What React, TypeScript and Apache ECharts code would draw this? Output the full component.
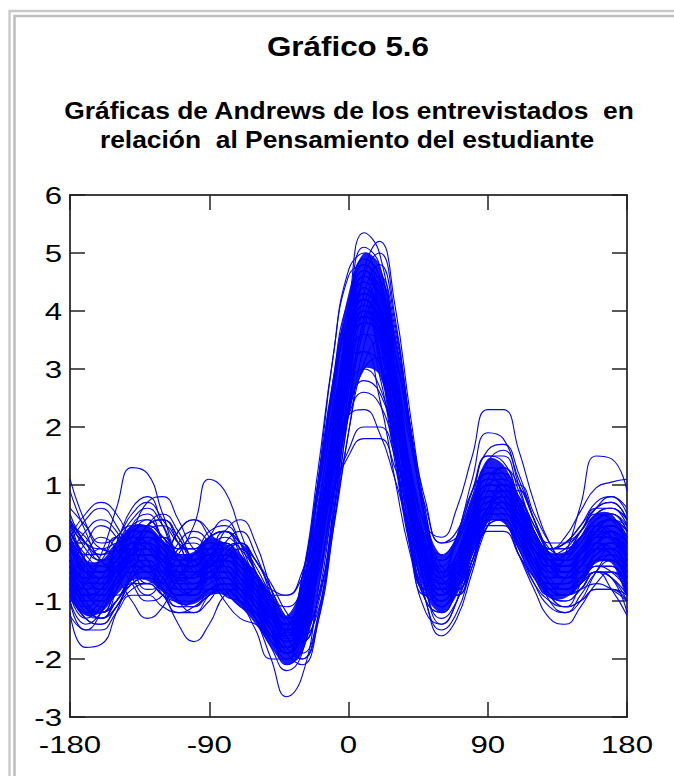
import React, { useEffect, useRef } from "react";
import * as echarts from "echarts";

const T = [-180,-170,-160,-150,-140,-130,-120,-110,-100,-90,-80,-70,-60,-50,-40,-30,-20,-10,0,10,20,30,40,50,60,70,80,90,100,110,120,130,140,150,160,170,180];

const xTicks = [-180, -90, 0, 90, 180];
const yTicks = [-3, -2, -1, 0, 1, 2, 3, 4, 5, 6];

// envelope of the densest (solid blue) part of the bundle
const coreLow = [-0.9,-1.25,-1.2,-0.9,-0.65,-0.65,-0.85,-1.05,-1.05,-0.9,-0.9,-1.1,-1.4,-1.8,-2.1,-1.9,-0.9,0.6,2.2,3.0,2.9,1.7,0.2,-0.9,-1.2,-0.9,-0.2,0.35,0.35,-0.1,-0.6,-0.95,-0.95,-0.7,-0.35,-0.35,-0.9];
const coreHigh = [0.0,-0.3,-0.3,0.0,0.3,0.3,0.05,-0.2,-0.15,0.1,0.0,-0.2,-0.5,-0.9,-1.25,-0.7,0.7,2.8,4.3,5.0,4.8,3.6,1.9,0.4,-0.2,0.1,0.8,1.45,1.35,0.8,0.2,-0.15,-0.15,0.1,0.5,0.5,0.0];

const c01 = [1.1,0.35,-0.1,-0.15,0.0,-0.1,-0.4,-0.65,-0.55,-0.25,-0.1,-0.3,-0.6,-1.15,-1.55,-1.35,-0.1,1.6,3.3,4.4,4.1,2.6,0.9,-0.3,-0.6,-0.2,0.4,0.9,0.8,0.35,0.0,-0.1,0.1,0.55,0.95,1.05,1.1];
const c02 = [-0.5,-0.6,-0.2,0.6,1.3,1.2,0.5,-0.1,0.3,1.1,0.9,0.2,-0.5,-1.1,-1.5,-1.2,0.1,1.8,3.3,4.1,3.6,2.1,0.5,-0.6,-0.9,-0.4,0.4,1.1,1.0,0.4,-0.2,-0.5,-0.5,-0.3,0.0,-0.2,-0.5];
const c03 = [-0.6,-1.1,-1.2,-0.8,-0.4,-0.3,-0.6,-0.9,-0.9,-0.6,-0.5,-0.8,-1.3,-2.0,-2.65,-2.3,-0.9,1.0,2.8,4.0,3.9,2.6,0.9,-0.5,-1.1,-0.8,0.0,0.6,0.6,0.2,-0.4,-0.8,-0.9,-0.6,-0.3,-0.3,-0.6];
const c04 = [-1.2,-1.8,-1.75,-1.2,-0.6,-0.4,-0.6,-0.9,-0.8,-0.5,-0.4,-0.6,-0.9,-1.4,-1.8,-1.5,-0.3,1.4,3.0,3.9,3.7,2.4,0.8,-0.4,-0.9,-0.6,0.1,0.6,0.5,0.0,-0.5,-0.9,-1.0,-0.8,-0.5,-0.6,-1.2];
const c05 = [-0.3,-0.9,-1.0,-0.6,-0.2,-0.3,-0.8,-1.4,-1.7,-1.4,-0.9,-0.8,-1.1,-1.5,-1.8,-1.4,-0.1,1.7,3.4,4.5,4.3,2.9,1.2,-0.1,-0.6,-0.3,0.4,1.0,1.0,0.5,0.0,-0.3,-0.3,-0.1,0.2,0.1,-0.3];
const c06 = [0.2,-0.3,-0.5,-0.3,0.0,0.1,-0.1,-0.3,-0.3,-0.1,0.0,-0.3,-0.8,-1.4,-1.9,-1.6,-0.2,1.9,4.0,5.35,5.0,3.3,1.2,-0.4,-1.1,-0.8,0.1,0.9,0.9,0.4,-0.1,-0.4,-0.3,0.0,0.4,0.5,0.2];
const c07 = [0.4,0.0,-0.2,-0.1,0.2,0.3,0.1,-0.2,-0.3,-0.2,-0.2,-0.4,-0.6,-0.8,-0.9,-0.6,0.1,0.9,1.5,1.8,1.8,1.3,0.5,-0.2,-0.5,-0.2,0.4,0.9,0.9,0.5,0.1,-0.1,0.0,0.3,0.6,0.7,0.4];
const c08 = [-0.5,-0.9,-0.8,-0.4,0.0,0.0,-0.3,-0.6,-0.6,-0.4,-0.4,-0.6,-0.8,-1.0,-1.1,-0.8,0.0,0.9,1.6,2.0,2.0,1.5,0.6,-0.2,-0.6,-0.4,0.2,0.7,0.8,0.5,0.0,-0.4,-0.5,-0.3,0.0,-0.1,-0.5];
const c09 = [-0.1,-0.4,-0.4,-0.1,0.2,0.2,0.0,-0.3,-0.4,-0.3,-0.3,-0.5,-0.7,-0.9,-0.9,-0.5,0.4,1.4,2.2,2.3,1.9,1.1,0.2,-0.5,-0.8,-0.5,0.1,0.6,0.7,0.4,-0.1,-0.4,-0.4,-0.2,0.1,0.2,-0.1];
const c10 = [-0.7,-1.2,-1.2,-0.8,-0.4,-0.3,-0.5,-0.7,-0.7,-0.6,-0.6,-0.8,-1.0,-1.3,-1.4,-1.1,-0.1,1.2,2.3,2.8,2.6,1.7,0.5,-0.5,-0.9,-0.6,0.0,0.5,0.5,0.1,-0.4,-0.8,-0.9,-0.7,-0.4,-0.4,-0.7];
const c11 = [0.1,-0.3,-0.5,-0.4,-0.2,-0.1,-0.2,-0.3,-0.2,0.0,0.0,-0.3,-0.7,-1.2,-1.6,-1.3,0.0,1.8,3.4,4.3,4.0,2.8,1.3,0.3,0.1,0.6,1.5,2.3,2.3,1.6,0.7,0.0,-0.3,-0.2,0.2,0.4,0.1];
const c12 = [-0.6,-0.9,-0.8,-0.5,-0.3,-0.4,-0.7,-0.9,-0.8,-0.5,-0.5,-0.8,-1.2,-1.6,-1.9,-1.5,-0.2,1.5,3.2,4.3,4.0,2.3,0.3,-1.0,-1.6,-1.3,-0.5,0.3,0.4,-0.2,-0.8,-1.3,-1.4,-1.1,-0.7,-0.5,-0.6];
const c13 = [0.9,0.2,-0.3,-0.4,-0.2,-0.1,-0.3,-0.5,-0.5,-0.3,-0.2,-0.4,-0.8,-1.3,-1.6,-1.3,-0.2,1.4,3.0,4.0,3.8,2.5,0.9,-0.3,-0.8,-0.6,0.0,0.5,0.5,0.2,-0.3,-0.6,-0.2,0.65,1.5,1.45,0.9];
const c14 = [-1.25,-1.5,-1.2,-0.6,-0.2,-0.2,-0.5,-0.8,-0.8,-0.6,-0.6,-0.9,-1.2,-1.6,-1.9,-1.6,-0.4,1.3,2.9,3.9,3.7,2.4,0.8,-0.4,-0.9,-0.6,0.1,0.7,0.6,0.1,-0.4,-0.7,-0.7,-0.6,-0.5,-0.8,-1.25];
const c15 = [-0.2,-0.65,-0.7,-0.45,-0.2,-0.2,-0.4,-0.55,-0.55,-0.35,-0.3,-0.5,-0.8,-1.25,-1.65,-1.35,-0.1,1.6,3.2,4.2,3.9,2.5,0.9,-0.3,-0.7,-0.3,0.4,1.0,0.9,0.35,-0.1,-0.4,-0.4,-0.15,0.15,0.05,-0.2];
const c16 = [0.1,-0.2,-0.2,0.1,0.3,0.3,0.1,-0.1,-0.1,0.1,0.2,0.0,-0.4,-0.9,-1.3,-1.0,0.3,2.1,3.8,4.8,4.5,2.9,1.0,-0.4,-1.0,-0.7,0.1,0.7,0.6,0.1,-0.4,-0.7,-0.7,-0.4,-0.1,-0.1,0.1];
const c17 = [-0.5,-1.1,-1.2,-1.0,-0.7,-0.7,-0.9,-1.0,-1.0,-0.8,-0.8,-1.0,-1.3,-1.6,-1.9,-1.6,-0.4,1.2,2.7,3.6,3.5,2.4,1.0,0.0,-0.3,0.0,0.7,1.3,1.2,0.7,0.2,-0.1,-0.1,0.1,0.3,0.1,-0.5];
const c18 = [-0.6,-0.6,-0.9,-0.9,-0.5,0.0,0.1,-0.3,-0.7,-0.6,-0.1,0.0,-0.5,-1.2,-1.7,-1.5,-0.3,1.5,3.2,4.3,4.1,2.8,1.1,-0.2,-0.7,-0.4,0.2,0.8,0.9,0.6,0.1,-0.3,-0.5,-0.4,-0.1,-0.1,-0.6];
const c19 = [0.0,-0.4,-0.3,0.1,0.1,-0.3,-0.7,-0.6,-0.2,-0.1,-0.4,-0.8,-1.1,-1.5,-1.7,-1.2,0.2,1.9,3.5,4.4,4.0,2.5,0.8,-0.5,-0.9,-0.5,0.3,1.0,1.1,0.6,0.0,-0.4,-0.5,-0.2,0.2,0.3,0.0];
const c20 = [0.2,-0.8,-1.1,-0.6,0.3,0.5,0.0,-0.7,-0.9,-0.3,0.2,-0.1,-0.8,-1.5,-2.1,-1.8,-0.4,1.5,3.2,4.2,3.8,2.3,0.6,-0.7,-1.1,-0.6,0.3,1.2,1.2,0.6,-0.2,-0.7,-0.8,-0.4,0.2,0.4,0.2];
const c21 = [-0.5,-0.6,-0.6,-0.5,-0.4,-0.4,-0.5,-0.5,-0.5,-0.5,-0.5,-0.6,-0.9,-1.2,-1.5,-1.2,0.0,1.7,3.2,4.0,3.7,2.4,0.9,-0.2,-0.5,-0.2,0.4,0.8,0.7,0.3,-0.1,-0.3,-0.4,-0.4,-0.3,-0.3,-0.5];
const c22 = [0.3,-0.3,-0.5,-0.2,0.1,0.2,0.0,-0.3,-0.3,0.0,0.0,-0.3,-0.7,-1.2,-1.6,-1.4,-0.1,1.9,3.9,4.9,4.6,3.0,1.1,-0.3,-0.8,-0.4,0.4,1.1,1.0,0.5,0.1,-0.1,0.0,0.2,0.6,0.6,0.3];
const c23 = [-0.6,-1.0,-1.0,-0.7,-0.5,-0.5,-0.7,-0.8,-0.8,-0.6,-0.6,-0.9,-1.3,-1.8,-2.2,-1.9,-0.5,1.6,3.8,5.1,4.8,3.1,1.0,-0.5,-1.1,-0.7,0.2,0.9,0.9,0.3,-0.3,-0.7,-0.7,-0.4,-0.1,-0.2,-0.6];
const c24 = [0.0,-0.5,-0.6,-0.3,-0.1,-0.1,-0.3,-0.6,-0.6,-0.4,-0.3,-0.5,-0.8,-1.1,-1.4,-1.1,0.0,1.4,2.7,3.3,3.1,2.1,0.9,0.1,-0.2,0.1,0.8,1.5,1.5,0.9,0.3,0.0,0.0,0.2,0.5,0.4,0.0];
const c25 = [-0.8,-1.1,-0.9,-0.5,-0.1,0.0,-0.2,-0.5,-0.6,-0.4,-0.3,-0.5,-0.8,-1.3,-1.7,-1.4,-0.1,1.8,3.6,4.6,4.2,2.6,0.6,-0.8,-1.3,-1.0,-0.3,0.3,0.3,-0.2,-0.6,-0.9,-0.9,-0.7,-0.4,-0.4,-0.8];
const c26 = [-0.3,-0.8,-0.9,-0.6,-0.3,-0.2,-0.3,-0.5,-0.5,-0.4,-0.4,-0.6,-0.9,-1.3,-1.7,-1.5,-0.4,1.3,2.9,3.9,3.9,2.8,1.3,0.0,-0.7,-0.7,-0.1,0.6,1.0,0.8,0.3,-0.2,-0.5,-0.5,-0.2,0.0,-0.3];
const c27 = [0.5,0.0,-0.2,0.0,0.4,0.6,0.3,-0.1,-0.1,0.2,0.3,0.0,-0.5,-1.0,-1.4,-1.2,0.0,1.7,3.3,4.2,3.8,2.4,0.7,-0.5,-0.9,-0.5,0.3,1.0,1.0,0.5,0.1,-0.1,0.0,0.3,0.7,0.8,0.5];
const c28 = [-0.9,-1.3,-1.4,-1.1,-0.8,-0.7,-0.9,-1.1,-1.0,-0.8,-0.7,-0.9,-1.2,-1.6,-2.0,-1.7,-0.5,1.2,2.9,3.9,3.7,2.4,0.8,-0.4,-0.9,-0.6,0.0,0.5,0.4,-0.1,-0.6,-0.9,-0.9,-0.7,-0.5,-0.6,-0.9];
const c29 = [0.3,0.1,-0.3,-0.5,-0.2,0.3,0.5,0.2,-0.3,-0.4,0.0,0.2,-0.2,-0.9,-1.5,-1.4,-0.2,1.6,3.3,4.3,4.0,2.6,0.9,-0.3,-0.7,-0.3,0.5,1.1,1.1,0.6,0.1,-0.2,-0.3,-0.1,0.2,0.4,0.3];
const c30 = [-0.4,-1.0,-1.3,-1.1,-0.6,-0.4,-0.6,-1.0,-1.2,-1.0,-0.7,-0.7,-1.0,-1.4,-1.8,-1.6,-0.4,1.4,3.1,4.0,3.8,2.5,0.9,-0.2,-0.6,-0.3,0.5,1.2,1.2,0.7,0.1,-0.3,-0.4,-0.2,0.1,0.1,-0.4];
const c31 = [-0.2,-0.5,-0.5,-0.3,0.0,0.0,-0.2,-0.5,-0.6,-0.5,-0.5,-0.7,-1.0,-1.3,-1.5,-1.1,0.1,1.6,2.7,3.0,2.7,1.7,0.5,-0.4,-0.7,-0.4,0.2,0.8,0.8,0.4,-0.1,-0.5,-0.6,-0.4,-0.1,0.0,-0.2];
const c32 = [-0.4,-0.8,-0.7,-0.3,0.0,-0.1,-0.4,-0.7,-0.7,-0.4,-0.3,-0.5,-0.9,-1.4,-1.8,-1.5,-0.2,1.5,3.1,4.1,3.9,2.6,1.0,-0.2,-0.5,0.1,1.1,1.9,1.8,1.0,0.2,-0.4,-0.6,-0.5,-0.2,-0.1,-0.4];
const c33 = [0.0,-0.6,-0.8,-0.5,-0.1,0.0,-0.3,-0.7,-0.7,-0.3,0.0,-0.2,-0.6,-1.2,-1.7,-1.5,-0.3,1.6,3.4,4.5,4.3,2.9,1.1,-0.3,-0.8,-0.4,0.4,1.0,0.9,0.3,-0.3,-0.6,-0.6,-0.2,0.3,0.4,0.0];
const c34 = [-0.7,-1.0,-0.8,-0.3,0.2,0.2,-0.2,-0.6,-0.6,-0.3,-0.2,-0.5,-1.0,-1.5,-1.9,-1.6,-0.3,1.5,3.2,4.2,4.0,2.6,0.9,-0.4,-0.9,-0.5,0.3,0.9,0.8,0.2,-0.4,-0.8,-0.9,-0.7,-0.3,-0.3,-0.7];
const c35 = [0.2,-0.2,-0.4,-0.3,-0.1,-0.1,-0.3,-0.4,-0.3,-0.1,-0.1,-0.3,-0.6,-1.0,-1.4,-1.3,-0.2,1.5,3.0,3.8,3.6,2.4,0.9,-0.1,-0.4,0.0,0.6,1.1,1.0,0.5,0.0,-0.2,-0.2,0.1,0.4,0.5,0.2];
const c36 = [-0.3,-0.7,-0.6,-0.2,0.1,0.0,-0.3,-0.5,-0.4,-0.2,-0.2,-0.5,-0.9,-1.4,-1.8,-1.5,-0.1,1.9,3.7,4.6,4.3,2.7,0.8,-0.6,-1.0,-0.6,0.2,0.8,0.8,0.3,-0.2,-0.5,-0.5,-0.2,0.1,0.1,-0.3];
const c37 = [-1.0,-1.4,-1.2,-0.7,-0.3,-0.3,-0.6,-0.9,-0.8,-0.5,-0.4,-0.6,-1.0,-1.5,-1.8,-1.4,-0.1,1.7,3.3,4.3,4.1,2.7,1.0,-0.3,-0.8,-0.6,-0.1,0.4,0.4,0.0,-0.5,-0.9,-1.1,-1.0,-0.8,-0.8,-1.0];
const c38 = [0.0,-0.4,-0.6,-0.4,-0.1,0.1,0.0,-0.3,-0.5,-0.4,-0.2,-0.3,-0.6,-1.0,-1.5,-1.4,-0.3,1.4,3.0,4.0,3.8,2.6,1.0,-0.2,-0.8,-0.6,0.1,0.9,1.3,1.0,0.4,-0.2,-0.4,-0.3,0.0,0.2,0.0];
const c39 = [-0.5,-0.8,-0.6,-0.2,0.1,0.0,-0.4,-0.8,-0.9,-0.6,-0.4,-0.6,-1.0,-1.5,-1.9,-1.6,-0.2,1.7,3.5,4.6,4.4,3.0,1.2,-0.2,-0.7,-0.4,0.3,0.8,0.7,0.2,-0.3,-0.7,-0.8,-0.6,-0.3,-0.2,-0.5];
const c40 = [0.4,-0.1,-0.3,-0.1,0.2,0.2,-0.1,-0.4,-0.4,-0.1,0.1,-0.1,-0.5,-1.1,-1.5,-1.3,-0.1,1.6,3.2,4.1,3.9,2.6,1.0,-0.2,-0.6,-0.2,0.5,1.2,1.2,0.7,0.2,-0.1,-0.1,0.2,0.6,0.7,0.4];
const c41 = [-0.6,-0.2,0.1,-0.1,-0.6,-0.9,-0.6,-0.1,0.0,-0.4,-0.9,-1.0,-1.2,-1.6,-1.6,-0.7,1.0,2.8,4.0,4.2,3.3,1.6,0.0,-0.8,-0.8,-0.3,0.5,1.0,0.9,0.4,-0.2,-0.6,-0.6,-0.3,0.0,-0.2,-0.6];
const c42 = [-0.5,-1.0,-1.2,-1.0,-0.5,0.0,0.1,-0.3,-0.8,-0.8,-0.3,-0.1,-0.5,-1.0,-1.5,-1.7,-1.1,0.4,2.2,3.7,4.2,3.3,1.8,0.4,-0.5,-0.6,-0.1,0.6,1.0,0.8,0.2,-0.3,-0.5,-0.4,-0.1,0.0,-0.5];
const c43 = [0.6,0.3,0.0,0.1,0.5,0.7,0.4,0.0,-0.1,0.1,0.2,-0.2,-0.8,-1.3,-1.4,-0.6,1.2,3.2,4.6,4.8,3.8,1.9,0.1,-0.9,-1.0,-0.5,0.3,0.9,0.9,0.4,-0.1,-0.3,-0.2,0.2,0.6,0.8,0.6];
const c44 = [-1.0,-1.5,-1.5,-1.2,-0.9,-0.9,-1.1,-1.2,-1.1,-0.9,-0.8,-0.8,-1.0,-1.3,-1.8,-2.0,-1.4,0.2,2.3,3.9,4.5,3.6,1.9,0.3,-0.7,-0.9,-0.4,0.3,0.7,0.5,-0.1,-0.6,-0.8,-0.7,-0.5,-0.6,-1.0];
const c45 = [-0.4,0.0,0.3,0.1,-0.4,-0.8,-0.7,-0.2,0.1,-0.2,-0.7,-1.0,-1.1,-1.3,-1.6,-1.3,-0.1,1.5,3.0,3.8,3.6,2.5,1.0,-0.2,-0.8,-0.8,-0.3,0.4,0.9,0.9,0.4,-0.2,-0.6,-0.6,-0.3,-0.1,-0.4];
const c46 = [0.0,-0.5,-0.8,-0.7,-0.2,0.3,0.4,0.0,-0.5,-0.6,-0.2,0.0,-0.5,-1.2,-1.5,-0.8,0.8,2.6,3.9,4.4,3.5,1.8,0.2,-0.7,-0.6,0.1,0.9,1.2,0.8,0.1,-0.5,-0.8,-0.6,-0.2,0.3,0.4,0.0];
const c47 = [0.0,-0.5,-0.5,-0.1,0.3,0.4,0.1,-0.2,-0.2,0.1,0.2,0.0,-0.3,-0.8,-1.4,-1.7,-1.0,0.8,3.0,4.6,5.0,3.9,2.0,0.3,-0.8,-0.9,-0.3,0.5,1.0,0.8,0.2,-0.2,-0.3,-0.1,0.2,0.3,0.0];
const c48 = [-0.9,-1.2,-1.0,-0.6,-0.4,-0.5,-0.8,-1.1,-1.1,-0.8,-0.7,-1.0,-1.5,-2.0,-2.0,-1.1,0.5,2.2,3.3,3.6,2.9,1.4,-0.1,-1.0,-1.2,-0.8,0.0,0.6,0.6,0.1,-0.5,-0.9,-1.0,-0.8,-0.5,-0.5,-0.9];
const c49 = [-0.2,0.2,0.4,0.2,-0.3,-0.7,-0.5,0.0,0.2,0.0,-0.5,-0.8,-1.0,-1.4,-1.8,-1.5,-0.1,1.9,3.7,4.7,4.4,2.9,1.1,0.0,-0.3,0.1,0.9,1.5,1.4,0.8,0.2,-0.1,-0.1,0.1,0.3,0.2,-0.2];
const c50 = [-0.3,-0.8,-1.0,-0.8,-0.3,0.2,0.3,0.0,-0.5,-0.6,-0.2,0.0,-0.3,-0.8,-1.3,-1.6,-1.2,0.2,1.9,3.4,4.0,3.3,1.9,0.5,-0.4,-0.5,0.0,0.6,0.9,0.7,0.1,-0.4,-0.6,-0.4,0.0,0.1,-0.3];
const c51 = [0.3,0.0,-0.1,0.0,0.1,0.1,0.0,-0.1,-0.1,0.0,-0.1,-0.4,-0.9,-1.4,-1.5,-0.8,0.8,2.6,3.8,4.0,3.2,1.6,0.1,-0.7,-0.8,-0.3,0.5,1.0,0.9,0.4,-0.1,-0.3,-0.2,0.1,0.4,0.5,0.3];
const c52 = [-0.3,-1.1,-1.3,-0.8,0.1,0.4,0.0,-0.7,-0.9,-0.4,0.0,-0.3,-0.9,-1.5,-1.9,-1.6,-0.2,1.8,3.5,4.4,4.1,2.6,0.7,-0.8,-1.4,-1.0,0.1,1.1,1.3,0.7,-0.2,-0.9,-1.1,-0.7,-0.1,0.2,-0.3];
const c53 = [-0.8,-0.4,-0.1,-0.3,-0.7,-1.0,-0.9,-0.4,-0.2,-0.4,-0.8,-1.1,-1.2,-1.3,-1.5,-1.4,-0.6,0.8,2.2,3.0,3.2,2.5,1.3,0.2,-0.5,-0.5,0.0,0.6,0.9,0.7,0.2,-0.3,-0.6,-0.6,-0.4,-0.4,-0.8];
const c54 = [-0.2,-0.6,-0.6,-0.3,0.0,0.0,-0.2,-0.4,-0.4,-0.2,-0.2,-0.6,-1.1,-1.7,-1.8,-0.9,1.0,3.2,4.7,5.0,4.0,2.0,0.1,-1.0,-1.2,-0.7,0.2,0.9,0.9,0.4,-0.2,-0.5,-0.5,-0.2,0.1,0.1,-0.2];
const c55 = [-0.4,-0.9,-0.9,-0.6,-0.2,-0.1,-0.3,-0.5,-0.5,-0.3,-0.2,-0.4,-0.6,-1.0,-1.6,-1.9,-1.3,0.4,2.6,4.1,4.6,3.7,2.0,0.4,-0.6,-0.7,-0.1,0.6,0.8,0.3,-0.4,-1.0,-1.2,-1.0,-0.5,-0.2,-0.4];
const c56 = [0.1,-0.4,-0.7,-0.6,-0.2,0.3,0.4,0.1,-0.4,-0.6,-0.3,-0.1,-0.5,-1.1,-1.6,-1.4,-0.2,1.4,2.9,3.8,3.7,2.6,1.1,-0.1,-0.7,-0.7,-0.2,0.5,1.0,1.0,0.5,0.0,-0.3,-0.2,0.1,0.3,0.1];
const c57 = [-0.6,-1.1,-1.3,-1.0,-0.7,-0.6,-0.8,-1.0,-1.1,-0.9,-0.8,-1.0,-1.3,-1.6,-1.5,-0.6,0.8,2.3,3.2,3.3,2.5,1.1,-0.2,-0.9,-0.9,-0.4,0.3,0.8,0.7,0.2,-0.3,-0.7,-0.8,-0.6,-0.3,-0.3,-0.6];
const c58 = [0.1,0.5,0.7,0.5,0.0,-0.4,-0.3,0.2,0.4,0.2,-0.3,-0.6,-0.9,-1.3,-1.7,-1.5,-0.1,2.0,3.9,4.9,4.6,3.0,1.0,-0.4,-0.9,-0.6,0.2,0.9,0.9,0.4,-0.1,-0.4,-0.4,-0.1,0.3,0.4,0.1];
const c59 = [-0.1,-0.5,-0.6,-0.4,-0.2,-0.2,-0.4,-0.6,-0.6,-0.4,-0.3,-0.4,-0.6,-0.9,-1.3,-1.5,-1.0,0.3,1.9,3.1,3.5,2.9,1.7,0.6,0.0,0.2,0.9,1.6,1.7,1.2,0.4,-0.2,-0.4,-0.3,0.0,0.1,-0.1];
const c60 = [-0.9,-1.3,-1.1,-0.6,-0.1,0.1,-0.2,-0.6,-0.7,-0.4,-0.3,-0.6,-1.1,-1.7,-1.9,-1.0,0.8,2.8,4.2,4.5,3.6,1.7,-0.1,-1.2,-1.4,-1.0,-0.3,0.2,0.2,-0.2,-0.7,-1.0,-1.1,-1.0,-0.8,-0.8,-0.9];
const c61 = [0.4,0.0,-0.3,-0.2,0.2,0.7,0.8,0.4,-0.1,-0.2,0.2,0.4,0.0,-0.8,-1.5,-1.4,-0.1,1.7,3.4,4.3,4.0,2.6,0.9,-0.3,-0.8,-0.5,0.3,0.9,0.9,0.5,0.0,-0.2,-0.1,0.2,0.5,0.6,0.4];
const c62 = [-0.7,-1.2,-1.3,-1.0,-0.6,-0.5,-0.7,-0.9,-0.9,-0.7,-0.6,-0.8,-1.0,-1.4,-1.9,-2.1,-1.4,0.4,2.7,4.3,4.8,3.8,2.0,0.3,-0.8,-0.9,-0.3,0.4,0.7,0.4,-0.2,-0.7,-0.9,-0.8,-0.5,-0.5,-0.7];
const c63 = [-1.0,-0.7,-0.4,-0.6,-1.0,-1.3,-1.1,-0.6,-0.4,-0.6,-1.0,-1.3,-1.4,-1.6,-1.9,-1.6,-0.3,1.5,3.2,4.1,3.9,2.5,0.8,-0.4,-0.9,-0.6,0.1,0.7,0.7,0.2,-0.4,-0.8,-0.9,-0.8,-0.7,-0.8,-1.0];
const c64 = [0.4,-0.3,-0.5,0.0,0.6,0.8,0.3,-0.3,-0.4,0.1,0.4,0.0,-0.7,-1.3,-1.4,-0.6,1.0,2.7,3.7,3.9,3.1,1.5,0.0,-0.8,-0.8,-0.2,0.6,1.2,1.1,0.5,-0.1,-0.4,-0.3,0.1,0.5,0.6,0.4];
const c65 = [0.2,-0.3,-0.6,-0.5,-0.1,0.3,0.4,0.1,-0.3,-0.4,-0.1,0.0,-0.3,-0.7,-1.2,-1.5,-1.0,0.5,2.4,3.8,4.3,3.5,2.0,0.7,0.0,0.1,0.7,1.4,1.6,1.1,0.4,-0.1,-0.2,0.0,0.3,0.4,0.2];
const c66 = [-0.8,-1.3,-1.4,-1.1,-0.7,-0.6,-0.9,-1.2,-1.2,-0.9,-0.7,-0.8,-1.1,-1.5,-1.9,-1.6,-0.2,1.8,3.6,4.6,4.3,2.8,0.9,-0.5,-1.0,-0.7,0.1,0.7,0.7,0.2,-0.4,-0.8,-0.8,-0.6,-0.4,-0.5,-0.8];
const c67 = [-0.3,-0.7,-0.8,-0.5,-0.2,-0.2,-0.4,-0.6,-0.6,-0.4,-0.4,-0.7,-1.1,-1.6,-1.8,-1.2,0.4,2.4,4.1,4.7,4.0,2.3,0.4,-1.0,-1.5,-1.2,-0.4,0.3,0.4,-0.1,-0.7,-1.1,-1.2,-0.9,-0.5,-0.3,-0.3];
const c68 = [-0.3,-0.6,-0.6,-0.3,0.0,0.0,-0.2,-0.4,-0.4,-0.3,-0.3,-0.5,-0.8,-1.1,-1.3,-1.0,0.0,1.3,2.2,2.6,2.4,1.6,0.6,-0.3,-0.6,-0.3,0.3,0.8,0.8,0.4,-0.1,-0.4,-0.4,-0.2,0.1,0.1,-0.3];
const c69 = [-0.1,-0.5,-0.6,-0.4,-0.1,0.0,-0.2,-0.4,-0.4,-0.2,-0.1,-0.3,-0.5,-1.0,-1.6,-2.0,-1.3,0.6,3.0,4.7,5.2,4.1,2.2,0.5,-0.6,-0.8,-0.2,0.5,0.8,0.5,-0.1,-0.5,-0.6,-0.4,-0.1,0.0,-0.1];
const c70 = [0.0,0.4,0.6,0.3,-0.2,-0.5,-0.3,0.2,0.4,0.1,-0.4,-0.7,-1.1,-1.5,-1.6,-0.8,0.9,2.7,4.0,4.2,3.3,1.6,0.0,-0.8,-0.8,-0.3,0.5,1.1,1.0,0.5,0.0,-0.3,-0.3,-0.1,0.2,0.2,0.0];

const curves = [c01,c02,c03,c04,c05,c06,c07,c08,c09,c10,c11,c12,c13,c14,c15,c16,c17,c18,c19,c20,c21,c22,c23,c24,c25,c26,c27,c28,c29,c30,c31,c32,c33,c34,c35,c36,c37,c38,c39,c40,c41,c42,c43,c44,c45,c46,c47,c48,c49,c50,c51,c52,c53,c54,c55,c56,c57,c58,c59,c60,c61,c62,c63,c64,c65,c66,c67,c68,c69,c70];

const titleText = "Gráfico 5.6";
const subtitleLines = ["Gráficas de Andrews de los entrevistados  en", "relación  al Pensamiento del estudiante"];

const FONT = "'Liberation Sans', Arial, Helvetica, sans-serif";
const BLUE = "#0000ff";

export default function App() {
  const ref = useRef<HTMLDivElement>(null);
  useEffect(() => {
    if (!ref.current) return;
    const chart = echarts.init(ref.current, null, { renderer: "svg" });
    const tickCommon = { show: true, inside: true, length: 15, lineStyle: { color: "#222", width: 1.5 } };
    const lineCommon = { show: true, onZero: false, lineStyle: { color: "#000", width: 1.5 } };
    const baseGraphic: any[] = [
      { type: "rect", silent: true, shape: { x: 9.5, y: 11, width: 900, height: 900 }, style: { fill: "none", stroke: "#c8c8c8", lineWidth: 2.3 } },
      { type: "rect", silent: true, shape: { x: 14.5, y: 16, width: 900, height: 900 }, style: { fill: "none", stroke: "#bdbdbd", lineWidth: 2.5 } },
      { type: "text", x: 348, y: 46, scaleX: 1.12, silent: true, style: { text: titleText, x: 0, y: 0, align: "center", verticalAlign: "middle", font: `bold 28px ${FONT}`, fill: "#000" } },
      { type: "text", x: 349, y: 110, scaleX: 1.1, silent: true, style: { text: subtitleLines[0], x: 0, y: 0, align: "center", verticalAlign: "middle", font: `bold 24px ${FONT}`, fill: "#000" } },
      { type: "text", x: 347, y: 139, scaleX: 1.1, silent: true, style: { text: subtitleLines[1], x: 0, y: 0, align: "center", verticalAlign: "middle", font: `bold 24px ${FONT}`, fill: "#000" } },
    ];
    const bandSeries = {
      name: "núcleo denso",
      type: "custom",
      coordinateSystem: "cartesian2d",
      xAxisIndex: 0,
      yAxisIndex: 0,
      silent: true,
      clip: true,
      data: [[0, 0]],
      renderItem: (_params: any, api: any) => {
        const upper = T.map((t, j) => api.coord([t, coreHigh[j]]));
        const lower = T.map((t, j) => api.coord([t, coreLow[j]])).reverse();
        return {
          type: "polygon",
          shape: { points: [...upper, ...lower], smooth: 0.35 },
          style: { fill: BLUE, opacity: 0.9 },
        };
      },
    };
    chart.setOption({
      animation: false,
      backgroundColor: "#ffffff",
      grid: { left: 70, top: 195, width: 557, height: 522, show: false },
      xAxis: [
        {
          type: "value", min: xTicks[0], max: xTicks[xTicks.length - 1], interval: 90, position: "bottom",
          axisLine: lineCommon, axisTick: tickCommon, splitLine: { show: false }, axisLabel: { show: false },
        },
        {
          type: "value", min: xTicks[0], max: xTicks[xTicks.length - 1], interval: 90, position: "top",
          axisLine: lineCommon, axisTick: tickCommon, splitLine: { show: false }, axisLabel: { show: false },
        },
      ],
      yAxis: [
        {
          type: "value", min: yTicks[0], max: yTicks[yTicks.length - 1], interval: 1, position: "left",
          axisLine: lineCommon, axisTick: tickCommon, splitLine: { show: false }, axisLabel: { show: false },
        },
        {
          type: "value", min: yTicks[0], max: yTicks[yTicks.length - 1], interval: 1, position: "right",
          axisLine: lineCommon, axisTick: tickCommon, splitLine: { show: false }, axisLabel: { show: false },
        },
      ],
      graphic: baseGraphic,
      series: [
        bandSeries,
        ...curves.map((c, i) => ({
          name: "curva " + (i + 1),
          type: "line",
          xAxisIndex: 0,
          yAxisIndex: 0,
          data: T.map((t, j) => [t, c[j]]),
          smooth: 0.5,
          symbol: "none",
          showSymbol: false,
          silent: true,
          lineStyle: { color: BLUE, width: 1.1 },
        })),
      ],
    });

    // Tick labels placed with the axes' own scales (stretched horizontally like the source image)
    const bottomY = chart.convertToPixel({ yAxisIndex: 0 }, yTicks[0]) as number;
    const leftX = chart.convertToPixel({ xAxisIndex: 0 }, xTicks[0]) as number;
    const labelFont = `24px ${FONT}`;
    const xLabels = xTicks.map((v) => ({
      type: "text", silent: true,
      x: chart.convertToPixel({ xAxisIndex: 0 }, v) as number, y: bottomY + 28, scaleX: 1.3,
      style: { text: String(v), x: 0, y: 0, align: "center", verticalAlign: "middle", font: labelFont, fill: "#000" },
    }));
    const yLabels = yTicks.map((v) => ({
      type: "text", silent: true,
      x: leftX - 8, y: (chart.convertToPixel({ yAxisIndex: 0 }, v) as number) + 1, scaleX: 1.3,
      style: { text: String(v), x: 0, y: 0, align: "right", verticalAlign: "middle", font: labelFont, fill: "#000" },
    }));
    chart.setOption({ graphic: [...baseGraphic, ...xLabels, ...yLabels] });

    return () => chart.dispose();
  }, []);
  return (
    <div
      ref={ref}
      style={{ position: "fixed", left: 0, top: 0, width: 674, height: 776, background: "#fff" }}
    />
  );
}
